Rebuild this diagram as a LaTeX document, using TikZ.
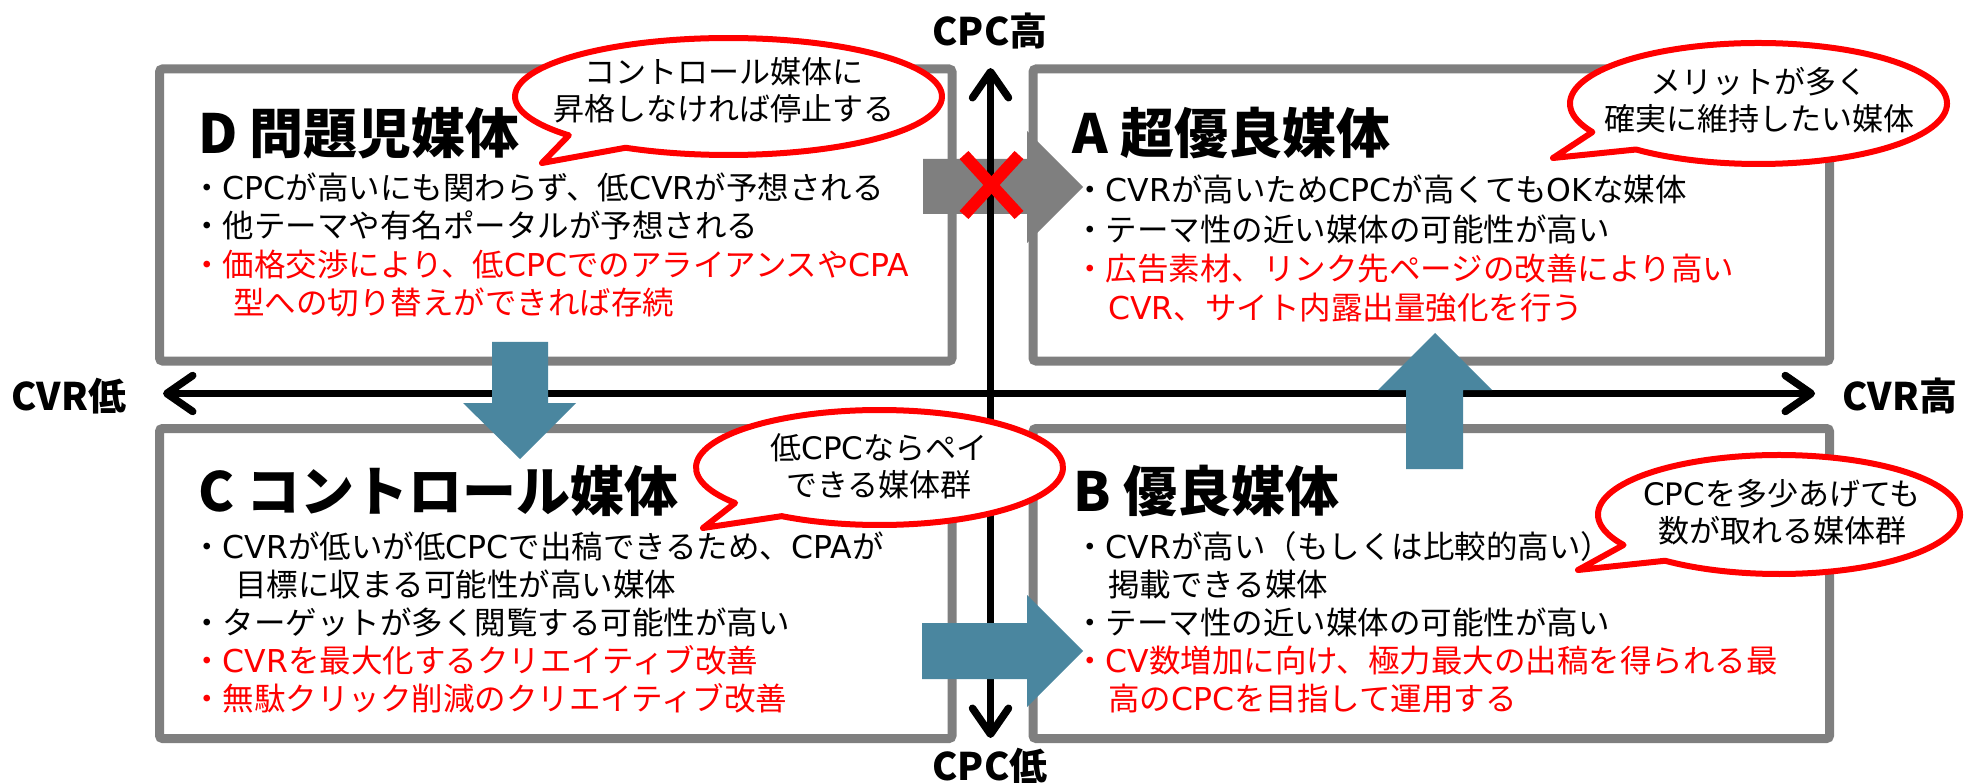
\documentclass[tikz,border=0pt]{standalone}
\usepackage{fontspec}
\setmainfont{Noto Sans CJK JP}
\newfontfamily\latinfont{DejaVu Sans}
\newcommand{\lat}[1]{{\latinfont #1}}
\usetikzlibrary{arrows.meta}
\definecolor{framegray}{HTML}{7F7F7F}
\definecolor{flowblue}{HTML}{4A869F}
\definecolor{alertred}{HTML}{FF0000}
\tikzset{
  quad/.style={draw=framegray,line width=9pt,rounded corners=3pt,fill=white},
  axisline/.style={line width=7.5pt,{Straight Barb[length=26pt,width=36pt,round]}-{Straight Barb[length=26pt,width=36pt,round]}},
  axislabel/.style={font=\fontsize{38}{40}\selectfont\bfseries,inner sep=0pt},
  quadtitle/.style={font=\fontsize{54}{60}\selectfont\bfseries,anchor=west,inner sep=0pt,text height=47.5pt,text depth=6.5pt},
  bodyline/.style={font=\fontsize{31.5}{38}\selectfont,anchor=west,inner sep=0pt,text height=27.7pt,text depth=3.8pt},
  redline/.style={bodyline,text=alertred},
  moveblock/.style={fill=flowblue},
  blocked/.style={fill=framegray},
  nogo/.style={draw=alertred,line width=12pt},
  balloon/.style={draw=alertred,line width=6pt,fill=white,line join=round},
  balloontext/.style={font=\fontsize{31}{37}\selectfont,align=center,inner sep=0pt},
}

\begin{document}
\begin{tikzpicture}[x=1pt,y=-1pt]
  \useasboundingbox (0,0) rectangle (1964,783);
  % quadrants
  \draw[quad] (159.5,69) rectangle (952,361);
  \draw[quad] (1033,69) rectangle (1829.5,361);
  \draw[quad] (159.5,428.5) rectangle (952,738.5);
  \draw[quad] (1033,428.5) rectangle (1829.5,738.5);
  % D -> A is not allowed
  \fill[blocked] (923,159) -- (1027,159) -- (1027,131) -- (1083,187) -- (1027,243) -- (1027,214) -- (923,214) -- cycle;
  % axes
  \coordinate (xlo) at (163,393.5); \coordinate (xhi) at (1815,393.5);
  \coordinate (ylo) at (990.5,738); \coordinate (yhi) at (990.5,68);
  \draw[axisline] (xlo) -- (xhi);
  \draw[axisline] (ylo) -- (yhi);
  \node[axislabel] (cvrlow) at (69,396) {CVR低};
  \node[axislabel] (cvrhigh) at (1900,396) {CVR高};
  \node[axislabel] (cpchigh) at (990,31) {CPC高};
  \node[axislabel] (cpclow) at (990,766) {CPC低};
  % moves between quadrants
  \fill[moveblock] (922,623) -- (1027,623) -- (1027,595) -- (1083,651) -- (1027,707) -- (1027,679) -- (922,679) -- cycle;
  \fill[moveblock] (492,342) -- (548,342) -- (548,403) -- (576,403) -- (520,459) -- (463,403) -- (492,403) -- cycle;
  \fill[moveblock] (1406,469) -- (1463,469) -- (1463,390) -- (1492,390) -- (1435,333) -- (1378,390) -- (1406,390) -- cycle;
  \draw[nogo] (964,155) -- (1019,215);
  \draw[nogo] (1019,155) -- (964,215);
  % D
  \node[quadtitle] (tD) at (198,133) {D 問題児媒体};
  \node[bodyline] (d1) at (191,188) {・\lat{CPC}が高いにも関わらず、低\lat{CVR}が予想される};
  \node[bodyline] (d2) at (191,226) {・他テーマや有名ポータルが予想される};
  \node[redline] (d3) at (191,265) {・価格交渉により、低\lat{CPC}でのアライアンスや\lat{CPA}};
  \node[redline] (d4) at (233,303) {型への切り替えができれば存続};
  % A
  \node[quadtitle] (tA) at (1072,133) {A 超優良媒体};
  \node[bodyline] (a1) at (1074,190) {・\lat{CVR}が高いため\lat{CPC}が高くても\lat{OK}な媒体};
  \node[bodyline] (a2) at (1074,230) {・テーマ性の近い媒体の可能性が高い};
  \node[redline] (a3) at (1074,269) {・広告素材、リンク先ページの改善により高い};
  \node[redline] (a4) at (1108,308) {\lat{CVR}、サイト内露出量強化を行う};
  % C
  \node[quadtitle] (tC) at (198,491) {C コントロール媒体};
  \node[bodyline] (c1) at (191,547) {・\lat{CVR}が低いが低\lat{CPC}で出稿できるため、\lat{CPA}が};
  \node[bodyline] (c2) at (235,585) {目標に収まる可能性が高い媒体};
  \node[bodyline] (c3) at (191,623) {・ターゲットが多く閲覧する可能性が高い};
  \node[redline] (c4) at (191,661) {・\lat{CVR}を最大化するクリエイティブ改善};
  \node[redline] (c5) at (191,699) {・無駄クリック削減のクリエイティブ改善};
  % B
  \node[quadtitle] (tB) at (1073,491) {B 優良媒体};
  \node[bodyline] (b1) at (1074,547) {・\lat{CVR}が高い（もしくは比較的高い）};
  \node[bodyline] (b2) at (1108,585) {掲載できる媒体};
  \node[bodyline] (b3) at (1074,623) {・テーマ性の近い媒体の可能性が高い};
  \node[redline] (b4) at (1074,661) {・\lat{CV}数増加に向け、極力最大の出稿を得られる最};
  \node[redline] (b5) at (1108,699) {高の\lat{CPC}を目指して運用する};
  % balloons
  \coordinate (dballoon) at (728.5,96.5);
  \draw[balloon] (dballoon) ++(138.4:213.5 and 58.5) arc[start angle=138.4,end angle=478.8,x radius=213.5,y radius=58.5] -- (542,163) -- cycle;
  \coordinate (aballoon) at (1758.5,103.5);
  \draw[balloon] (aballoon) ++(151.8:188.5 and 60.5) arc[start angle=151.8,end angle=490.5,x radius=188.5,y radius=60.5] -- (1553,158) -- cycle;
  \coordinate (cballoon) at (879.5,467.5);
  \draw[balloon] (cballoon) ++(141.9:183.5 and 57.5) arc[start angle=141.9,end angle=482.2,x radius=183.5,y radius=57.5] -- (703,528) -- cycle;
  \coordinate (bballoon) at (1779,514.5);
  \draw[balloon] (bballoon) ++(149.2:181 and 59.5) arc[start angle=149.2,end angle=489,x radius=181,y radius=59.5] -- (1578,570) -- cycle;
  \node[balloontext] (dnote) at (724,90) {コントロール媒体に\\昇格しなければ停止する};
  \node[balloontext] (anote) at (1759,100) {メリットが多く\\確実に維持したい媒体};
  \node[balloontext] (cnote) at (879,466) {低\lat{CPC}ならペイ\\できる媒体群};
  \node[balloontext] (bnote) at (1782,512) {\lat{CPC}を多少あげても\\数が取れる媒体群};
\end{tikzpicture}
\end{document}
